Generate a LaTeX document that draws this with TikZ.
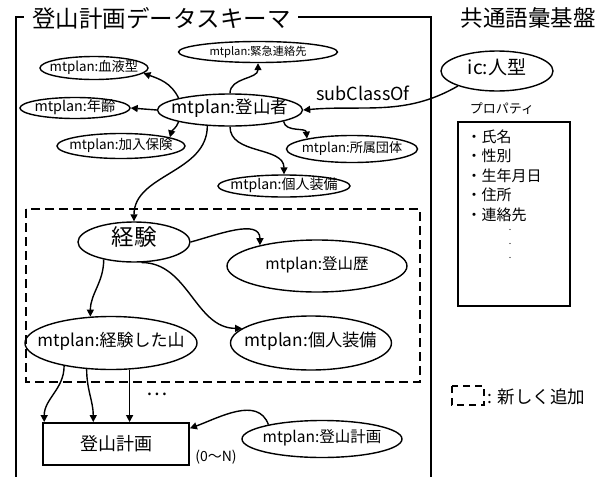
\documentclass[tikz,border=0pt]{standalone}
\usepackage{fontspec}
\setmainfont{Noto Sans CJK JP}
\usepackage{tikz}
\usetikzlibrary{positioning}
\usetikzlibrary{shapes.geometric}
\usetikzlibrary{arrows.meta}

\newcommand{\lbl}[1]{\makebox[0pt]{#1}}
\newcommand{\fs}[1]{\fontsize{#1}{#1}\selectfont}

\tikzset{
  cls/.style={draw, ellipse, line width=1.4pt, inner sep=0pt, text height=1.5ex, text depth=.25ex, font=\fs{13.5}},
  bigcls/.style={cls, font=\fs{17}},
  edge/.style={-{Triangle[length=7pt,width=7pt]}, line width=1.4pt},
  frame/.style={line width=2.2pt},
  newpart/.style={line width=1.9pt, dash pattern=on 9pt off 5pt},
}

\begin{document}
\begin{tikzpicture}[x=1pt, y=-1pt]
\useasboundingbox (0,0) rectangle (606,477);

% frame %
\draw[frame] (16,477) -- (16,17) -- (24,17);
\draw[frame] (298,17) -- (431,17) -- (431,477);
\draw[newpart] (26,209) rectangle (420,382);

% nodes %
\node[anchor=west, inner sep=0pt, font=\fs{23.5}] (title) at (32,18) {登山計画データスキーマ};
\node[font=\fs{22.5}] (base) at (528,18) {共通語彙基盤};

\node[cls, minimum width=145, minimum height=32, font=\fs{17.5}] (tozansha) at (230,110) {\lbl{mtplan:登山者}};
\node[cls, minimum width=108, minimum height=23, font=\fs{13.3}] (ketsueki) at (94,68) {\lbl{mtplan:血液型}};
\node[cls, minimum width=110, minimum height=21, font=\fs{14.3}] (nenrei) at (75,108) {\lbl{mtplan:年齢}};
\node[cls, minimum width=128, minimum height=25] (kanyu) at (121,146) {\lbl{mtplan:加入保険}};
\node[cls, minimum width=159, minimum height=21, font=\fs{11.2}] (kinkyu) at (258,52) {\lbl{mtplan:緊急連絡先}};
\node[cls, minimum width=131, minimum height=27, font=\fs{13.1}] (shozoku) at (352,149) {\lbl{mtplan:所属団体}};
\node[cls, minimum width=132, minimum height=22, font=\fs{14}] (soubi) at (284,186) {\lbl{mtplan:個人装備}};
\node[cls, minimum width=112, minimum height=40, font=\fs{19}] (hito) at (497,71) {\lbl{ic:人型}};
\node[font=\fs{18}] (subcls) at (363,93) {subClassOf};

\node[bigcls, minimum width=112, minimum height=40, font=\fs{22.5}] (keiken) at (134,242) {\lbl{経験}};
\node[bigcls, minimum width=180, minimum height=52, font=\fs{15.5}] (rireki) at (317,266) {\lbl{mtplan:登山歴}};
\node[bigcls, minimum width=172, minimum height=53] (yama) at (111,343) {\lbl{mtplan:経験した山}};
\node[bigcls, minimum width=161, minimum height=54, font=\fs{17.3}] (soubiL) at (311,343) {\lbl{mtplan:個人装備}};

\node[draw, line width=1.9pt, minimum width=146, minimum height=42, font=\fs{18}] (plan) at (116,444) {登山計画};
\node[cls, minimum width=160, minimum height=37, font=\fs{15.5}] (keikaku) at (322,439) {\lbl{mtplan:登山計画}};
\node[font=\fs{20}] (etc) at (157,394) {…};
\node[font=\fs{14}] (card) at (216,457) {(0〜N)};

% property list %
\node[draw, line width=1.9pt, minimum width=112, minimum height=184] (props) at (514,214) {};
\node[font=\fs{13}] (proplbl) at (502,109) {プロパティ};
\node[anchor=north west, align=left, font=\fontsize{15}{19.5}\selectfont] (plist) at (463,126) {・氏名\\・性別\\・生年月日\\・住所\\・連絡先};
\node[align=center, font=\fontsize{9}{14}\selectfont] (pdots) at (510,244) {.\\.\\.};

% legend %
\draw[line width=1.9pt, dash pattern=on 7pt off 5pt] (452,386) rectangle (484,405);
\node[anchor=west, font=\fs{17.5}] (legend) at (484,397) {: 新しく追加};

% edges %

%登山者%
\draw[edge] (tozansha.167) to[out=115, in=-20] (ketsueki.-6);
\draw[edge] (tozansha.west) -- (nenrei.east);
\draw[edge] (tozansha.193) to[out=-110, in=75] (kanyu.10);
\draw[edge] (tozansha.north) to[out=90, in=-90] (kinkyu.south);
\draw[edge] (tozansha.-12) to[out=-80, in=95] (shozoku.167);
\draw[edge] (tozansha.south) to[out=-90, in=90] (soubi.north);
\draw[edge] (tozansha.-145) to[out=-90, in=90] (keiken.north);

%ic:人型%
\draw[edge] (hito.201) to[out=210, in=5] (tozansha.east);

%経験%
\draw[edge] (keiken.east) to[out=15, in=90] (rireki.160);
\draw[edge] (keiken.210) to[out=-90, in=90] (yama.128);
\draw[edge] (keiken.-70) to[out=0, in=180] (soubiL.168);

%経験した山%
\draw[edge] (yama.206) to[out=-90, in=90] (plan.163);
\draw[edge] (yama.227) to[out=-90, in=90] (plan.136);
\draw[edge] (yama.-55) -- (yama.-55 |- plan.north);

%登山計画%
\draw[edge] (keikaku.165) to[out=110, in=20] (plan.12);

\end{tikzpicture}
\end{document}
